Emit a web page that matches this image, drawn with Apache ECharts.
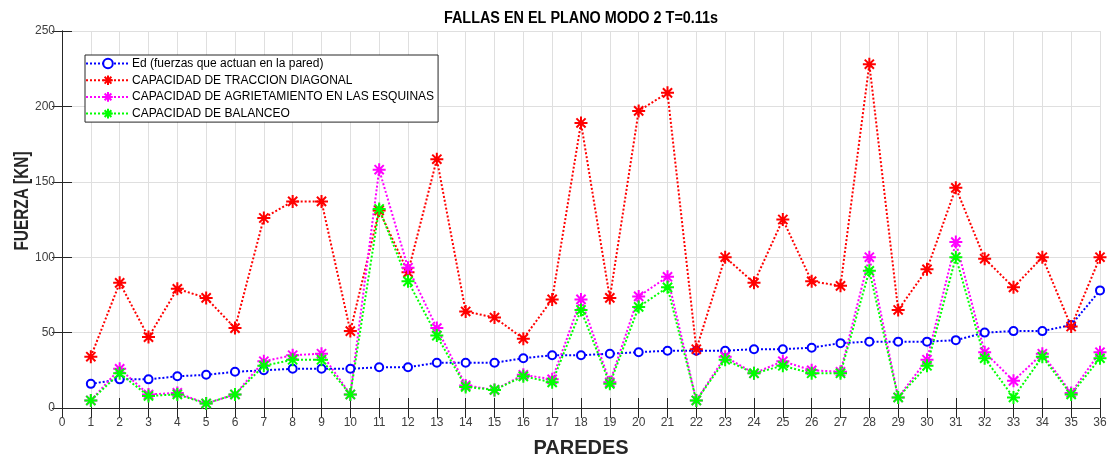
<!DOCTYPE html>
<html>
<head>
<meta charset="utf-8">
<script src="https://cdn.jsdelivr.net/npm/echarts@6/dist/echarts.min.js"></script>
<style>
  html, body { margin: 0; padding: 0; background: #fff; }
  #chart { width: 1110px; height: 457px; }
</style>
</head>
<body>
<div id="chart"></div>
<script>
// paredes 1..36
const paredes = [1, 2, 3, 4, 5, 6, 7, 8, 9, 10, 11, 12, 13, 14, 15, 16, 17, 18,
    19, 20, 21, 22, 23, 24, 25, 26, 27, 28, 29, 30, 31, 32, 33, 34, 35, 36];

// Ed (fuerzas que actuan en la pared)
const ed = [16, 19, 19, 21, 22, 24, 25, 26, 26, 26, 27, 27, 30, 30, 30, 33, 35, 35,
    36, 37, 38, 38, 38, 39, 39, 40, 43, 44, 44, 44, 45, 50, 51, 51, 55, 78];

// capacidad de traccion diagonal
const traccion = [34, 83, 47, 79, 73, 53, 126, 137, 137, 51, 131, 90, 165, 64, 60, 46, 72, 189,
    73, 197, 209, 39, 100, 83, 125, 84, 81, 228, 65, 92, 146, 99, 80, 100, 54, 100];

// capacidad de agrietamiento en las esquinas
const esquinas = [5, 26, 9, 10, 3, 9, 31, 35, 36, 9, 158, 93, 53, 15, 12, 22, 19, 72,
    17, 74, 87, 5, 34, 23, 31, 25, 24, 100, 7, 32, 110, 37, 18, 36, 10, 37];

// capacidad de balanceo
const balanceo = [5, 23, 8, 9, 3, 9, 28, 32, 32, 9, 132, 84, 48, 14, 12, 21, 17, 65,
    16, 67, 80, 5, 32, 23, 28, 23, 23, 91, 7, 28, 100, 33, 7, 34, 9, 33];

const yTicks = [0, 50, 100, 150, 200, 250];

const star = 'path://M0 6L12 6M6 0L6 12M1.76 1.76L10.24 10.24M1.76 10.24L10.24 1.76';
const sans = '"Liberation Sans", Arial, Helvetica, sans-serif';

const pairs = values => paredes.map((p, i) => [p, values[i]]);

function lineSeries(name, values, color, symbol, size) {
    return {
        name: name,
        type: 'line',
        data: pairs(values),
        symbol: symbol,
        symbolSize: size,
        showSymbol: true,
        showAllSymbol: true,
        lineStyle: { color: color, width: 2, type: [2, 2] },
        itemStyle: { color: color, borderColor: color, borderWidth: symbol === star ? 2 : 1.2 },
        emphasis: { disabled: true },
        animation: false
    };
}

const chart = echarts.init(document.getElementById('chart'));

const tickStyle = { inside: true, length: 10, lineStyle: { color: '#262626' } };
const lineStyleAxis = { show: true, lineStyle: { color: '#262626', width: 1 } };

chart.setOption({
    backgroundColor: '#fff',
    animation: false,
    grid: { left: 62, right: 10, top: 31, bottom: 49, containLabel: false, outerBoundsMode: 'none' },
    legend: {
        orient: 'vertical',
        left: 85,
        top: 55,
        padding: [2, 4, 2, 0],
        itemWidth: 44,
        itemHeight: 12,
        itemGap: 3.7,
        backgroundColor: '#fff',
        borderColor: '#262626',
        borderWidth: 1,
        borderRadius: 0,
        selectedMode: false,
        textStyle: { fontFamily: sans, fontSize: 12, lineHeight: 13, color: '#000', padding: [0, 0, 0, -3] },
        data: ['Ed (fuerzas que actuan en la pared)', 'CAPACIDAD DE TRACCION DIAGONAL',
            'CAPACIDAD DE AGRIETAMIENTO EN LAS ESQUINAS', 'CAPACIDAD DE BALANCEO']
    },
    xAxis: [{
        type: 'value',
        min: 0,
        max: 36,
        interval: 1,
        name: 'PAREDES',
        nameLocation: 'middle',
        nameGap: 30,
        nameTextStyle: { fontFamily: sans, fontSize: 20, fontWeight: 'bold', color: '#262626' },
        axisLine: lineStyleAxis,
        axisTick: tickStyle,
        axisLabel: { margin: 9, fontFamily: sans, fontSize: 12, color: '#404040' },
        splitLine: { show: true, lineStyle: { color: '#dfdfdf', width: 1 } }
    }, {
        type: 'value',
        position: 'top',
        min: 0,
        max: 36,
        interval: 1,
        axisLine: lineStyleAxis,
        axisTick: tickStyle,
        axisLabel: { show: false },
        splitLine: { show: false }
    }],
    yAxis: [{
        type: 'value',
        min: yTicks[0],
        max: yTicks[yTicks.length - 1],
        interval: 50,
        axisLine: lineStyleAxis,
        axisTick: tickStyle,
        axisLabel: { margin: 7, fontFamily: sans, fontSize: 12, color: '#404040', padding: [5, 0, 0, 0] },
        splitLine: { show: true, lineStyle: { color: '#dfdfdf', width: 1 } }
    }, {
        type: 'value',
        position: 'right',
        min: yTicks[0],
        max: yTicks[yTicks.length - 1],
        interval: 50,
        axisLine: lineStyleAxis,
        axisTick: tickStyle,
        axisLabel: { show: false },
        splitLine: { show: false }
    }],
    graphic: [{
        // chart title (slightly condensed, as in the reference)
        type: 'text',
        x: 581,
        y: 19,
        scaleX: 0.9,
        style: {
            text: 'FALLAS EN EL PLANO MODO 2 T=0.11s',
            font: 'bold 16px ' + sans,
            fill: '#000',
            align: 'center',
            verticalAlign: 'middle'
        }
    }, {
        // y axis title
        type: 'text',
        x: 22,
        y: 201,
        rotation: Math.PI / 2,
        scaleX: 0.77,
        style: {
            text: 'FUERZA [KN]',
            font: 'bold 20px ' + sans,
            fill: '#262626',
            align: 'center',
            verticalAlign: 'middle'
        }
    }],
    series: [
        lineSeries('Ed (fuerzas que actuan en la pared)', ed, '#0000ff', 'emptyCircle', 8),
        lineSeries('CAPACIDAD DE TRACCION DIAGONAL', traccion, '#ff0000', star, 13),
        lineSeries('CAPACIDAD DE AGRIETAMIENTO EN LAS ESQUINAS', esquinas, '#ff00ff', star, 13),
        lineSeries('CAPACIDAD DE BALANCEO', balanceo, '#00ff00', star, 13)
    ]
});
</script>
</body>
</html>
